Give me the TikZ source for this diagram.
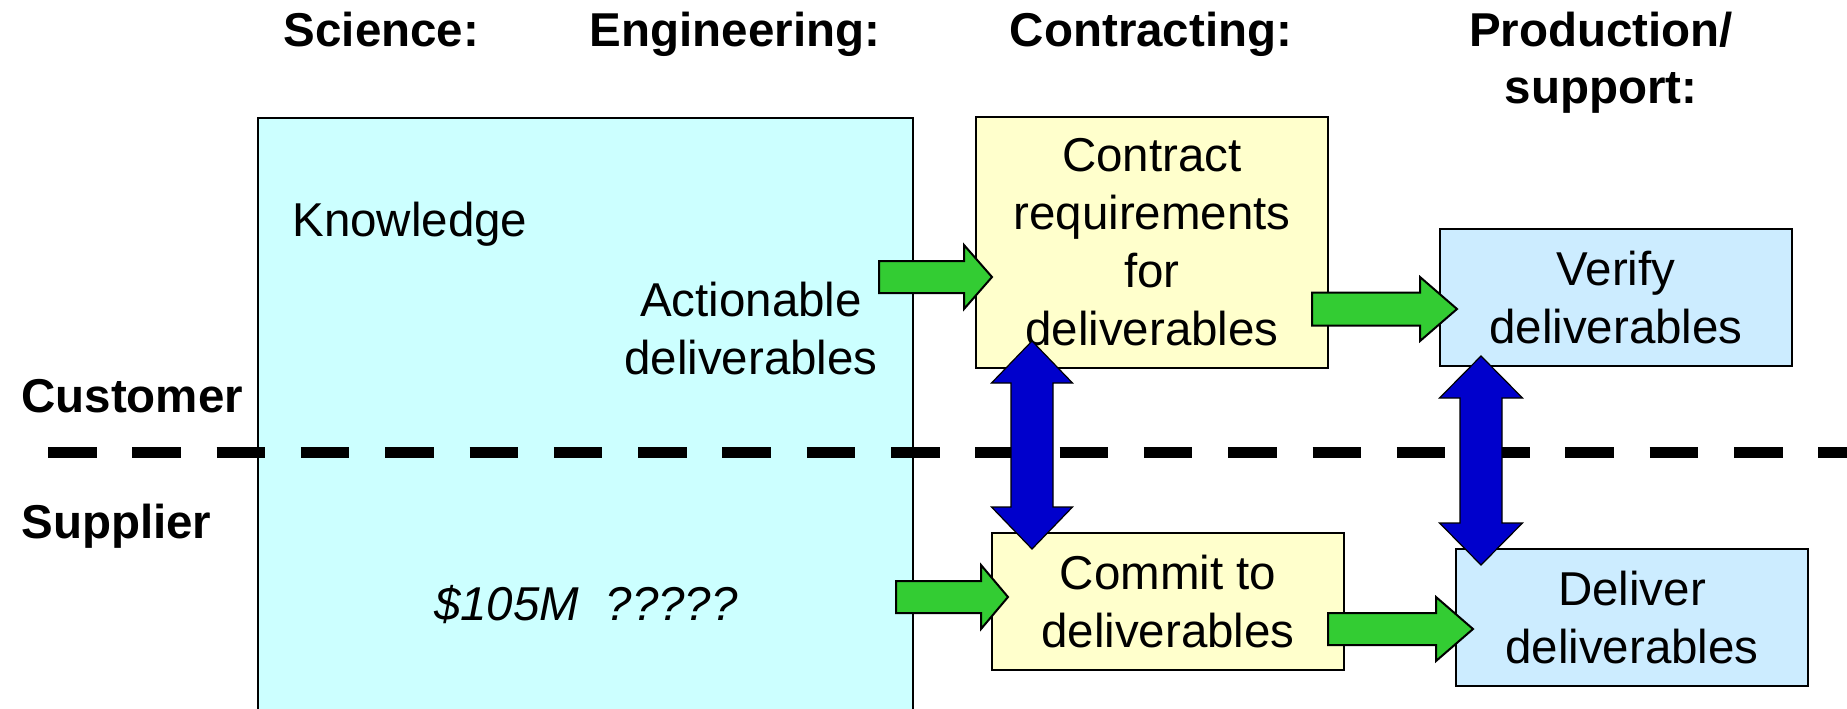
\documentclass[tikz,border=0pt]{standalone}
\usepackage{fontspec}
\setmainfont{Liberation Sans}
\usetikzlibrary{calc}

\definecolor{knowcyan}{HTML}{CCFFFF}
\definecolor{contractyellow}{HTML}{FFFFCC}
\definecolor{prodblue}{HTML}{CCECFF}
\definecolor{flowgreen}{HTML}{33CC33}
\definecolor{linkblue}{HTML}{0000CC}

% Block arrow pointing right: [style]{tail}{tip}{head length}{shaft half-width}{head half-width}
\newcommand{\rightblock}[6][]{%
  \filldraw[#1] let \p1=(#2), \p2=(#3) in
    (\x1,\y1-#5) -- (\x2-#4,\y1-#5) -- (\x2-#4,\y1-#6) -- (\x2,\y1)
    -- (\x2-#4,\y1+#6) -- (\x2-#4,\y1+#5) -- (\x1,\y1+#5) -- cycle;}

% Vertical double block arrow: [style]{top tip}{bottom tip}{head length}{shaft half-width}{head half-width}
\newcommand{\updownblock}[6][]{%
  \filldraw[#1] let \p1=(#2), \p2=(#3) in
    (\x1,\y1) -- (\x1+#6,\y1-#4) -- (\x1+#5,\y1-#4) -- (\x1+#5,\y2+#4)
    -- (\x1+#6,\y2+#4) -- (\x1,\y2) -- (\x1-#6,\y2+#4) -- (\x1-#5,\y2+#4)
    -- (\x1-#5,\y1-#4) -- (\x1-#6,\y1-#4) -- cycle;}

\tikzset{
  txt/.style={font=\fontsize{23.75pt}{29pt}\selectfont, inner sep=0pt},
  heading/.style={font=\fontsize{23.75pt}{28.5pt}\selectfont\bfseries, inner sep=0pt, align=center},
  box/.style={txt, draw=black, line width=1.1pt, align=center},
  divider/.style={line width=5.5pt, dash pattern=on 24.25pt off 17.9pt, line cap=butt},
  greenflow/.style={fill=flowgreen, draw=black, line width=1pt, line join=miter},
  bluelink/.style={fill=linkblue, draw=black, line width=0.6pt, line join=miter},
}

\begin{document}
\begin{tikzpicture}[x=0.5pt,y=-0.5pt]
\useasboundingbox (0,0) rectangle (1847,708);

% column headings
\node[heading, anchor=base] (sci)  at (381.5,46) {Science:};
\node[heading, anchor=base] (eng)  at (735,46)   {Engineering:};
\node[heading, anchor=base] (con)  at (1151,46)  {Contracting:};
\node[heading, anchor=north] (prod) at (1601,12) {Production/\\support:};

% row labels
\node[txt, font=\fontsize{23.75pt}{29pt}\selectfont\bfseries, anchor=base west] (cust) at (21,412) {Customer};
\node[txt, font=\fontsize{23.75pt}{29pt}\selectfont\bfseries, anchor=base west] (supp) at (21,538) {Supplier};

% science / engineering area
\node[draw=black, line width=0.9pt, fill=knowcyan, anchor=north west, inner sep=0pt,
      minimum width=327.5pt, minimum height=310pt] (knowbox) at (257,117) {};
\node[txt, anchor=base west] (know) at (292,236) {Knowledge};
\node[txt, align=center] (action) at (751,329) {Actionable\\deliverables};
\node[txt, font=\fontsize{23.75pt}{29pt}\selectfont\itshape, anchor=base] (cost) at (586,620) {\$105M\ \ ?????};

% contracting and production boxes
\node[box, fill=contractyellow, minimum width=176pt, minimum height=125.5pt] (contract) at (1152,242.5)
  {Contract\\requirements\\for\\deliverables};
\node[box, fill=contractyellow, minimum width=176pt, minimum height=68.5pt] (commit) at (1168,601.5)
  {Commit to\\deliverables};
\node[box, fill=prodblue, minimum width=176pt, minimum height=68.5pt] (verify) at (1616,297.5)
  {Verify\\deliverables};
\node[box, fill=prodblue, minimum width=176pt, minimum height=68.5pt] (deliver) at (1632,617.5)
  {Deliver\\deliverables};

% customer / supplier boundary
\coordinate (divL) at (48,452.5);
\coordinate (divR) at (1870,452.5);
\draw[divider] (divL) -- (divR);

% flow arrows
\coordinate (g1a) at (879,277);  \coordinate (g1b) at (992,277);
\coordinate (g2a) at (1312,309); \coordinate (g2b) at (1457,309);
\coordinate (g3a) at (896,597);  \coordinate (g3b) at (1008,597);
\coordinate (g4a) at (1328,629); \coordinate (g4b) at (1473,629);
\rightblock[greenflow]{g1a}{g1b}{14pt}{8pt}{16pt}
\rightblock[greenflow]{g2a}{g2b}{18.5pt}{8.25pt}{16pt}
\rightblock[greenflow]{g3a}{g3b}{13.5pt}{8pt}{16pt}
\rightblock[greenflow]{g4a}{g4b}{18.5pt}{8pt}{16pt}

% customer-supplier agreement arrows
\coordinate (b1a) at (1032,341); \coordinate (b1b) at (1032,549);
\coordinate (b2a) at (1481,356); \coordinate (b2b) at (1481,565);
\updownblock[bluelink]{b1a}{b1b}{21pt}{10.5pt}{20.25pt}
\updownblock[bluelink]{b2a}{b2b}{21pt}{10.5pt}{20.75pt}
\end{tikzpicture}
\end{document}
